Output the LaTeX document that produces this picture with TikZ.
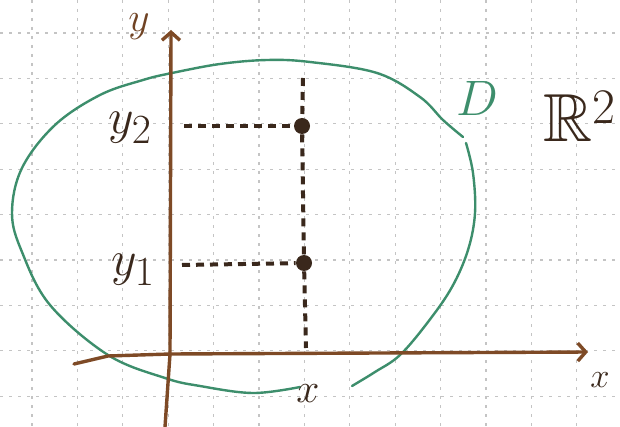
\documentclass[tikz,border=0pt]{standalone}
\usepackage{amsmath,amssymb}
\usepackage{xcolor}
\usepackage{tikz}
\usetikzlibrary{arrows.meta,positioning}
\definecolor{ink}   {HTML}{3A281C}
\definecolor{umber} {HTML}{7E4A26}
\definecolor{sage}  {HTML}{3D8E6C}
\definecolor{paper} {HTML}{C4C4C4}

\begin{document}
\begin{tikzpicture}[x=0.5pt,y=-0.5pt,
  gridline/.style={paper,line width=0.6pt,dash pattern=on 1.5pt off 3pt},
  axis/.style={umber,line width=1.7pt,line cap=round,-{Straight Barb[length=4pt,width=9pt]}},
  guide/.style={ink,line width=2pt,dash pattern=on 4pt off 3pt},
  region/.style={sage,line width=1.2pt,line cap=round},
  dot/.style={circle,fill=ink,inner sep=0pt,minimum size=8pt},
  lbl/.style={text=ink,font=\huge}]
\useasboundingbox (0,0) rectangle (620,427);
\fill[white] (0,0) rectangle (620,427);
% squared paper
\foreach \i in {0,...,12} \draw[gridline] (32+45.4*\i,0) -- (32+45.4*\i,427);
\foreach \j in {0,...,8} \draw[gridline] (0,33+45.4*\j) -- (620,33+45.4*\j);
% the region D
\draw[region] plot[smooth,tension=0.6] coordinates {(300,387) (253,393) (200,386) (165,378) (108,355) (50,305) (22,252) (12,213) (22,168) (55,125) (100,95) (143,80) (172,73) (220,64) (267,60) (310,62) (377,73) (420,97) (443,120) (463,137)};
\draw[region] plot[smooth,tension=0.6] coordinates {(466,143) (473,173) (475,213) (468,250) (452,287) (428,322) (400,355) (375,372) (352,386)};
% axes
\coordinate (o) at (170,354);
\coordinate (xstart) at (74,364);
\coordinate (xtip) at (588,352);
\coordinate (ybot) at (165,427);
\coordinate (ytip) at (171,30);
\draw[axis] (xstart) -- (108,356) -- (o) -- (xtip);
\draw[axis] (ybot) -- (o) -- (ytip);
\node[lbl,text=umber!80!ink] (ylab) at (139,27) {$y$};
\node[lbl,font=\LARGE] (xlab) at (600,380) {$x$};
% the two points over x
\node[dot] (p2) at (302,126) {};
\node[dot] (p1) at (304,263) {};
\coordinate (y2) at (184,126);
\coordinate (y1) at (182,265);
\coordinate (xtop) at (303,78);
\coordinate (xfoot) at (306,348);
\draw[guide] (y2) -- (p2);
\draw[guide] (y1) -- (p1);
\draw[guide] (xtop) -- (p2) -- (p1) -- (xfoot);
\node[lbl,font=\Huge] (y2lab) at (130,128) {$y_2$};
\node[lbl,font=\Huge] (y1lab) at (133,270) {$y_1$};
\node[lbl] (xval) at (308,394) {$x$};
\node[text=sage,font=\Huge] (dlab) at (477,98) {$D$};
\node[text=ink,font=\fontsize{34}{38}\selectfont] (plane) at (580,116) {$\mathbb{R}^2$};
\end{tikzpicture}
\end{document}
